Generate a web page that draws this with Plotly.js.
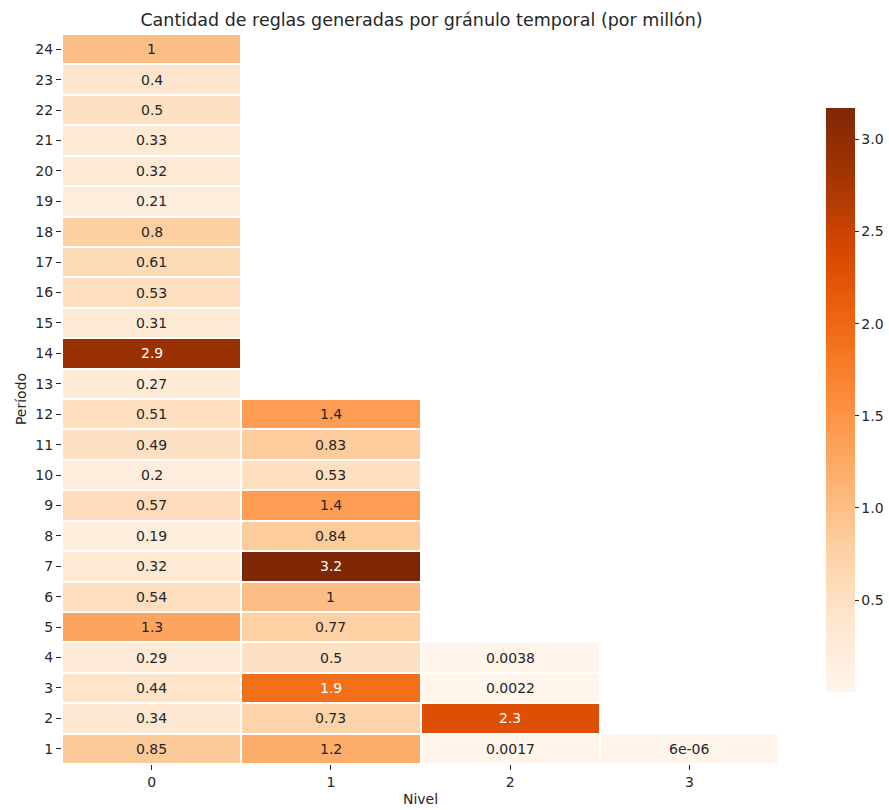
<!DOCTYPE html>
<html>
<head>
<meta charset="utf-8">
<script src="https://cdn.plot.ly/plotly-3.0.1.min.js"></script>
<style>html,body{margin:0;padding:0;background:#fff;}</style>
</head>
<body>
<div id="chart" style="width:889px;height:810px;"></div>
<script>
// Data: values per Nivel (column), listed from Período 1 upward
const periodos = [1,2,3,4,5,6,7,8,9,10,11,12,13,14,15,16,17,18,19,20,21,22,23,24];
const niveles = [0,1,2,3];
const nivel0 = [0.85,0.34,0.44,0.29,1.3,0.54,0.32,0.19,0.57,0.2,0.49,0.51,0.27,2.9,0.31,0.53,0.61,0.8,0.21,0.32,0.33,0.5,0.4,1];
const nivel1 = [1.2,0.73,1.9,0.5,0.77,1,3.17,0.84,1.4,0.53,0.83,1.4];
const nivel2 = [0.0017,2.3,0.0022,0.0038];
const nivel3 = [6e-06];

const columns = [nivel0, nivel1, nivel2, nivel3];
const z = periodos.map((p, i) => columns.map(col => (i < col.length ? col[i] : null)));

const oranges = [
  [0.0, '#fff5eb'], [0.125, '#fee6ce'], [0.25, '#fdd0a2'], [0.375, '#fdae6b'],
  [0.5, '#fd8d3c'], [0.625, '#f16913'], [0.75, '#d94801'], [0.875, '#a63603'], [1.0, '#7f2704']
];

function fmtG(v) {
  // mimic Python '.2g'
  if (v === 0) return '0';
  const e = Math.floor(Math.log10(Math.abs(v)));
  if (e < -4 || e >= 2) {
    let m = (v / Math.pow(10, e)).toPrecision(2);
    m = String(parseFloat(m));
    const sign = e < 0 ? '-' : '+';
    const ae = Math.abs(e);
    return m + 'e' + sign + (ae < 10 ? '0' + ae : ae);
  }
  return String(parseFloat(v.toPrecision(2)));
}

function hexToRgb(h) {
  return [parseInt(h.substr(1,2),16), parseInt(h.substr(3,2),16), parseInt(h.substr(5,2),16)];
}
function colorAt(t) {
  for (let k = 0; k < oranges.length - 1; k++) {
    const [t0, c0] = oranges[k], [t1, c1] = oranges[k+1];
    if (t <= t1) {
      const f = (t - t0) / (t1 - t0);
      const a = hexToRgb(c0), b = hexToRgb(c1);
      return a.map((x, j) => x + (b[j] - x) * f);
    }
  }
  return hexToRgb(oranges[oranges.length-1][1]);
}
function lum(rgb) {
  const c = rgb.map(x => { x /= 255; return x <= 0.03928 ? x / 12.92 : Math.pow((x + 0.055) / 1.055, 2.4); });
  return 0.2126*c[0] + 0.7152*c[1] + 0.0722*c[2];
}

const allVals = [].concat(...columns);
const zmin = Math.min(...allVals), zmax = Math.max(...allVals);

const annotations = [];
periodos.forEach((p, i) => {
  niveles.forEach((n, j) => {
    const v = z[i][j];
    if (v === null) return;
    const rgb = colorAt((v - zmin) / (zmax - zmin));
    annotations.push({
      x: n, y: p, xref: 'x', yref: 'y', text: fmtG(v), showarrow: false,
      font: {family: 'DejaVu Sans', size: 14, color: lum(rgb) > 0.408 ? '#262626' : '#ffffff'}
    });
  });
});

const trace = {
  type: 'heatmap', x: niveles, y: periodos, z: z,
  colorscale: oranges, zmin: zmin, zmax: zmax,
  xgap: 2, ygap: 2, hoverongaps: false,
  colorbar: {
    xref: 'container', yref: 'container',
    x: 826/889, xanchor: 'left', y: 1 - 444/810, yanchor: 'middle',
    len: 584, lenmode: 'pixels', xpad: 0, ypad: 0,
    thickness: 29, outlinewidth: 0, ticks: 'outside', ticklen: 4, tickcolor: '#262626',
    tickvals: [0.5,1.0,1.5,2.0,2.5,3.0], ticktext: ['0.5','1.0','1.5','2.0','2.5','3.0'],
    tickfont: {family: 'DejaVu Sans', size: 14, color: '#262626'}
  }
};

const layout = {
  width: 889, height: 810,
  margin: {l: 62, r: 110, t: 34, b: 46, autoexpand: false},
  paper_bgcolor: '#ffffff', plot_bgcolor: '#ffffff',
  font: {family: 'DejaVu Sans', color: '#262626'},
  title: {text: 'Cantidad de reglas generadas por gránulo temporal (por millón)',
          font: {family: 'DejaVu Sans', size: 17.5, color: '#262626'},
          x: 421.5/889, xanchor: 'center', y: 1 - 20/810, yanchor: 'middle'},
  xaxis: {
    tickvals: niveles, ticktext: niveles.map(String), range: [-0.5, 3.5],
    showgrid: false, zeroline: false, showline: false,
    ticks: 'outside', ticklen: 5, tickcolor: '#262626',
    tickfont: {family: 'DejaVu Sans', size: 14, color: '#262626'},
    title: {text: 'Nivel', font: {family: 'DejaVu Sans', size: 14, color: '#262626'}, standoff: 5}
  },
  yaxis: {
    tickvals: periodos, ticktext: periodos.map(String), range: [0.5, 24.5],
    showgrid: false, zeroline: false, showline: false,
    ticks: 'outside', ticklen: 5, tickcolor: '#262626',
    tickfont: {family: 'DejaVu Sans', size: 14, color: '#262626'},
    title: {text: 'Período', font: {family: 'DejaVu Sans', size: 14, color: '#262626'}, standoff: 5}
  },
  annotations: annotations
};

Plotly.newPlot('chart', [trace], layout, {displayModeBar: false, staticPlot: true});
</script>
</body>
</html>
